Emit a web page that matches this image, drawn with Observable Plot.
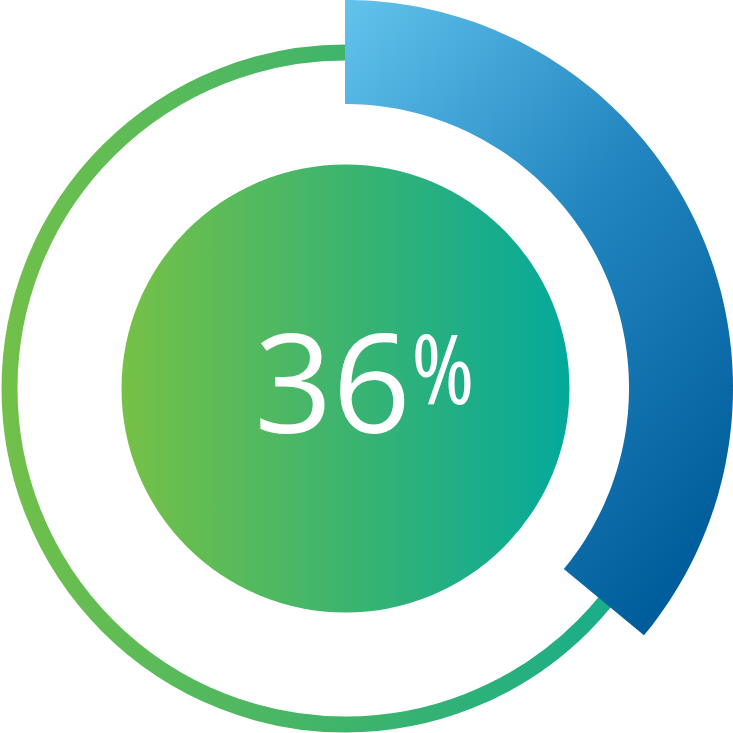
<!DOCTYPE html>
<html>
<head>
<meta charset="utf-8">
<script src="https://cdn.jsdelivr.net/npm/d3@7"></script>
<script src="https://cdn.jsdelivr.net/npm/@observablehq/plot@0.6"></script>
<style>
  html, body { margin: 0; padding: 0; background: #fff; }
  #chart svg { display: block; }
  .pct { font-stretch: 78%; }
</style>
</head>
<body>
<div id="chart"></div>
<script>
// ---- data ----
const percent = [36];          // share shown by the blue arc
const labels = ["36", "%"];    // centre label pieces

// ---- geometry (pixels) ----
const W = 733, H = 733;
const cx = 345, cy = 388;
const outerR = 388, innerR = 284;   // blue arc
const ringR = 336, ringW = 16;      // thin ring
const discR = 224;                  // centre disc

// arc polygon built from the percentage
const steps = 120;
const end = 2 * Math.PI * percent[0] / 100;
const arcPts = d3.range(steps + 1).map(i => {
  const a = end * i / steps;
  return {
    x1: outerR * Math.sin(a), y1: outerR * Math.cos(a),
    x2: innerR * Math.sin(a), y2: innerR * Math.cos(a)
  };
});

const center = [{x: 0, y: 0}];

const chart = Plot.plot({
  width: W, height: H, margin: 0,
  x: {domain: [-cx, W - cx], axis: null},
  y: {domain: [-(H - cy), cy], axis: null},
  marks: [
    Plot.dot(center, {x: "x", y: "y", r: ringR, fill: "none", stroke: "url(#ringGrad)", strokeWidth: ringW}),
    Plot.area(arcPts, {x1: "x1", y1: "y1", x2: "x2", y2: "y2", fill: "url(#blueGrad)", curve: "linear"}),
    Plot.dot(center, {x: "x", y: "y", r: discR, fill: "url(#discGrad)", stroke: "none"}),
    Plot.text([labels[0]], {x: () => 0, y: () => 0, text: d => d, dx: -13, dy: 1, fill: "white",
      fontSize: 137, fontWeight: 400, fontFamily: "Open Sans", textAnchor: "middle", lineAnchor: "middle"}),
    Plot.text([labels[1]], {x: () => 0, y: () => 0, text: d => d, dx: 66, dy: -15, fill: "white",
      fontSize: 96, fontWeight: 460, fontFamily: "Open Sans", textAnchor: "start", lineAnchor: "middle", className: "pct"})
  ]
});

// gradients
const ns = "http://www.w3.org/2000/svg";
const defs = document.createElementNS(ns, "defs");
defs.innerHTML = `
  <linearGradient id="ringGrad" x1="0" y1="0" x2="1" y2="0">
    <stop offset="0" stop-color="#70c04a"/>
    <stop offset="0.5" stop-color="#3fb46b"/>
    <stop offset="1" stop-color="#10ac92"/>
  </linearGradient>
  <linearGradient id="discGrad" x1="0" y1="0" x2="1" y2="0">
    <stop offset="0" stop-color="#76c146"/>
    <stop offset="0.5" stop-color="#3cb46f"/>
    <stop offset="1" stop-color="#04a99b"/>
  </linearGradient>
  <linearGradient id="blueGrad" x1="0" y1="0" x2="0.75" y2="1">
    <stop offset="0" stop-color="#62c3ec"/>
    <stop offset="0.5" stop-color="#2386c0"/>
    <stop offset="1" stop-color="#005d9b"/>
  </linearGradient>`;
chart.insertBefore(defs, chart.firstChild);

document.getElementById("chart").appendChild(chart);
</script>
</body>
</html>
